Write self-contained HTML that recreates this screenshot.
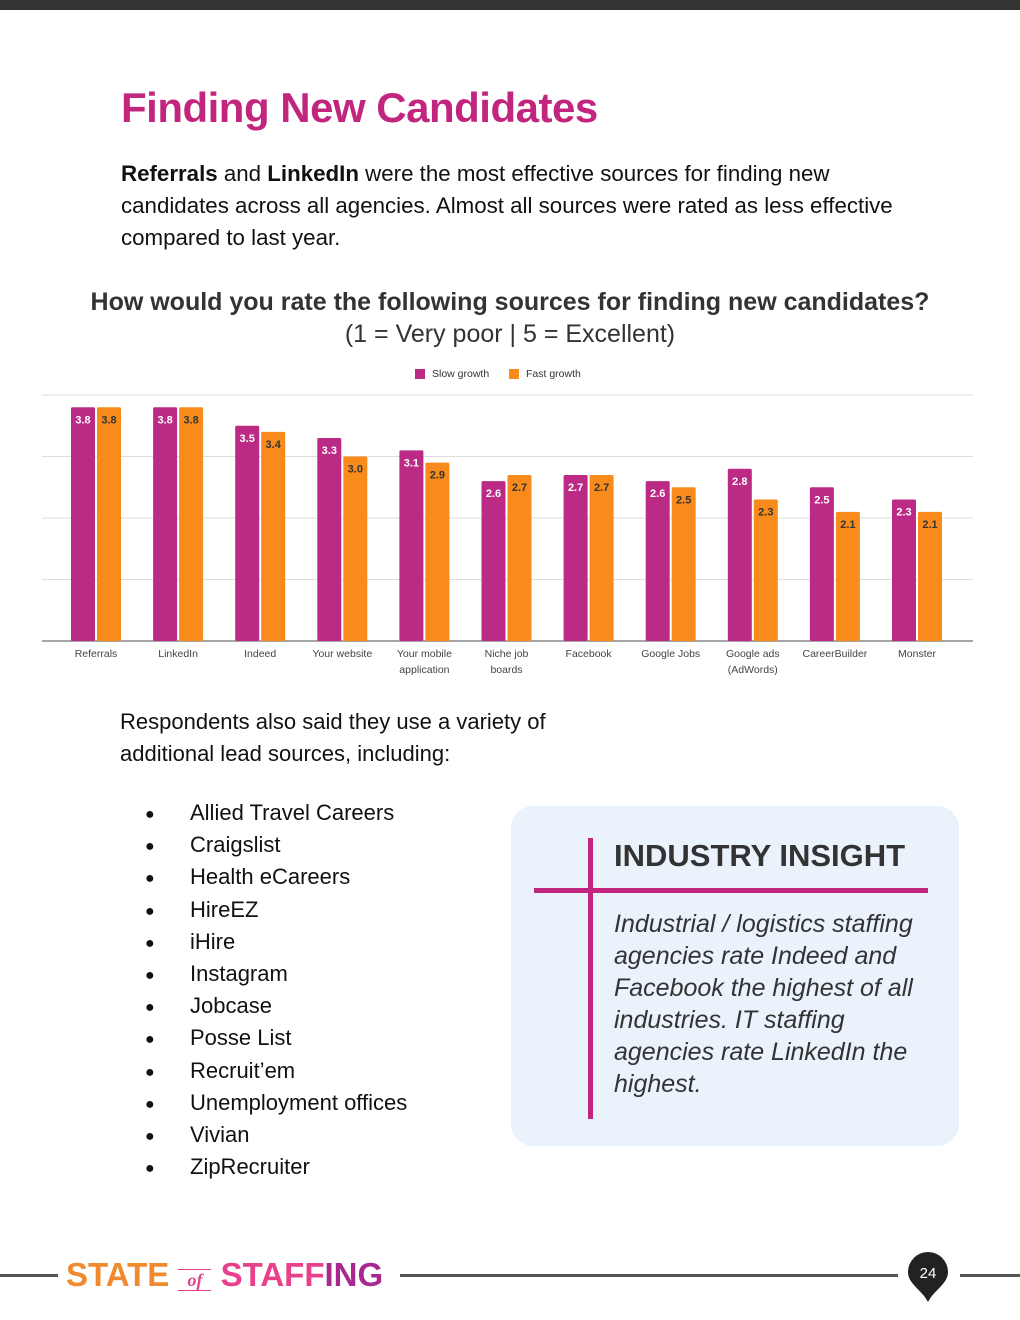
<!DOCTYPE html>
<html><head><meta charset="utf-8"><style>
body{margin:0;width:1020px;height:1320px;position:relative;background:#fff;font-family:"Liberation Sans",sans-serif;color:#222;overflow:hidden}
.a{position:absolute}
</style></head><body>
<div class="a" style="left:0;top:0;width:1020px;height:10px;background:#333"></div>
<div class="a" style="left:121px;top:84px;font-size:42px;font-weight:bold;color:#c2257e;letter-spacing:-0.5px">Finding New Candidates</div>
<div class="a" style="left:121px;top:158px;width:800px;font-size:22.3px;line-height:32px;color:#111"><b>Referrals</b> and <b>LinkedIn</b> were the most effective sources for finding new candidates across all agencies. Almost all sources were rated as less effective compared to last year.</div>
<div class="a" style="left:0;top:286px;width:1020px;text-align:center;font-size:25px;line-height:32px;color:#333"><b>How would you rate the following sources for finding new candidates?</b><br>(1 = Very poor | 5 = Excellent)</div>
<svg class="a" style="left:0;top:355px" width="1020" height="330" id="chart"></svg>
<div class="a" style="left:120px;top:706px;font-size:22px;line-height:32px;color:#111">Respondents also said they use a variety of<br>additional lead sources, including:</div>
<div class="a" style="left:145px;top:797px;font-size:22px;line-height:32.2px;color:#111" id="list"></div>
<div class="a" style="left:511px;top:806px;width:448px;height:340px;background:#eaf2fc;border-radius:22px"></div>
<div class="a" style="left:588px;top:838px;width:5px;height:281px;background:#c2257e"></div>
<div class="a" style="left:534px;top:888px;width:394px;height:5px;background:#c2257e"></div>
<div class="a" style="left:614px;top:838px;font-size:31px;font-weight:bold;color:#333">INDUSTRY INSIGHT</div>
<div class="a" style="left:614px;top:908px;width:310px;font-size:25px;line-height:32px;font-style:italic;color:#333">Industrial / logistics staffing agencies rate Indeed and Facebook the highest of all industries. IT staffing agencies rate LinkedIn the highest.</div>
<div class="a" style="left:0;top:1274px;width:58px;height:3px;background:#555"></div>
<div class="a" style="left:400px;top:1274px;width:498px;height:3px;background:#555"></div>
<div class="a" style="left:960px;top:1274px;width:60px;height:3px;background:#555"></div>
<div class="a" style="left:66px;top:1256px;font-size:33px;font-weight:bold;letter-spacing:0px;white-space:nowrap"><span style="color:#f08a2e">STATE</span> <span style="color:#e0448a;font-family:'Liberation Serif',serif;font-style:italic;font-size:18px;border-top:1px solid #e0448a;border-bottom:1px solid #e0448a">&nbsp;&nbsp;of&nbsp;&nbsp;</span> <span style="color:#e8408a">STAFF</span><span style="color:#a8288f">ING</span></div>
<svg class="a" style="left:906px;top:1250px" width="44" height="54"><path d="M22 2 A20 20 0 0 1 42 22 C42 34 28 40 22 52 C16 40 2 34 2 22 A20 20 0 0 1 22 2Z" fill="#222"/><text x="22" y="28" font-size="15" fill="#fff" text-anchor="middle" font-family="Liberation Sans">24</text></svg>
<script>
const categories=["Referrals","LinkedIn","Indeed","Your website","Your mobile|application","Niche job|boards","Facebook","Google Jobs","Google ads|(AdWords)","CareerBuilder","Monster"];
const slowGrowth=[3.8,3.8,3.5,3.3,3.1,2.6,2.7,2.6,2.8,2.5,2.3];
const fastGrowth=[3.8,3.8,3.4,3.0,2.9,2.7,2.7,2.5,2.3,2.1,2.1];
const yTicks=[0,1,2,3,4];
const sources=["Allied Travel Careers","Craigslist","Health eCareers","HireEZ","iHire","Instagram","Jobcase","Posse List","Recruit’em","Unemployment offices","Vivian","ZipRecruiter"];
const NS="http://www.w3.org/2000/svg";
const svg=document.getElementById('chart');
const base=286,unit=61.5,x0=96,step=82.1,bw=24;
const y=v=>base-v*unit;
const xc=i=>x0+i*step;
function mk(t,attrs,parent){const e=document.createElementNS(NS,t);for(const k in attrs)e.setAttribute(k,attrs[k]);(parent||svg).appendChild(e);return e;}
yTicks.forEach(t=>{const l=mk('line',{x1:42,x2:973,y1:y(t),y2:y(t),stroke:t?'#ddd':'#888','stroke-width':t?1:1.5});

});
categories.forEach((c,i)=>{
 [[slowGrowth[i],'#bb2a84',-bw-1,'#fff'],[fastGrowth[i],'#f98b1c',1,'#333']].forEach(([v,col,dx,tc],j)=>{
  const r=mk('rect',{x:xc(i)+dx,y:y(v),width:bw,height:base-y(v),fill:col,rx:1.5});
  
  
  const t=mk('text',{x:xc(i)+dx+bw/2,y:y(v)+16,'font-size':11,'font-weight':'bold',fill:tc,'text-anchor':'middle','font-family':'Liberation Sans'});
  t.textContent=v.toFixed(1);
  
  
 });
 c.split('|').forEach((s,k)=>{const t=mk('text',{x:xc(i),y:302+k*16,'font-size':10.5,fill:'#444','text-anchor':'middle','font-family':'Liberation Sans'});t.textContent=s;
 
 });
});
[['Slow growth','#bb2a84',415],['Fast growth','#f98b1c',509]].forEach(([n,c,x])=>{
 const g=mk('g',{});
 
 
 mk('rect',{x:x,y:14,width:10,height:10,fill:c},g);
 const t=mk('text',{x:x+17,y:22,'font-size':10.5,fill:'#333','font-family':'Liberation Sans'},g);t.textContent=n;
});
const list=document.getElementById('list');
sources.forEach(s=>{const d=document.createElement('div');


d.style.height='32.2px';
d.style.whiteSpace='nowrap';
d.innerHTML='<span style="display:inline-block;width:45px;font-size:16px;line-height:10px;vertical-align:1px">●</span>'+s;list.appendChild(d);});
</script>
</body></html>
